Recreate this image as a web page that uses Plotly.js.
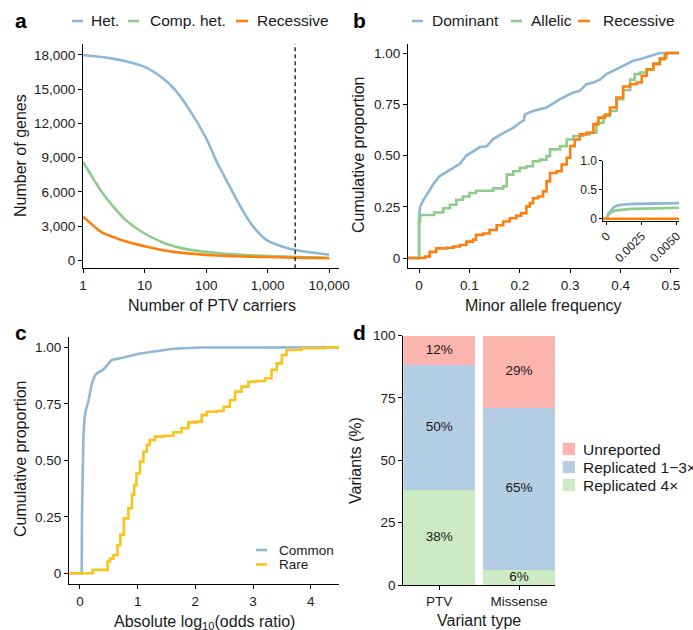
<!DOCTYPE html>
<html>
<head>
<meta charset="utf-8">
<script src="https://cdn.plot.ly/plotly-3.0.1.min.js"></script>
<style>
  html, body { margin: 0; padding: 0; background: #fff; }
  #chart { width: 693px; height: 630px; }
</style>
</head>
<body>
<div id="chart"></div>
<script>
// ---------- panel a: genes passing each carrier threshold ----------
const carriers      = [1, 2, 3, 5, 10, 20, 30, 50, 100, 150, 200, 300, 500, 700, 1000, 2000, 3000, 5000, 10000];
const hetGenes      = [18000, 17820, 17680, 17440, 16950, 15930, 15050, 13450, 10700, 8600, 7320, 5500, 3450, 2450, 1720, 1100, 880, 690, 500];
const compHetGenes  = [8630, 6010, 4800, 3500, 2350, 1550, 1230, 960, 740, 640, 580, 520, 450, 410, 380, 320, 290, 260, 230];
const recessiveGenes= [3820, 2450, 2070, 1650, 1230, 880, 740, 610, 480, 420, 390, 350, 320, 305, 290, 250, 230, 200, 175];
const carrierCutoff = 2800;

// ---------- panel b: cumulative distribution of minor allele frequency ----------
const domMaf = [-0.03, 0, 0, 0.002, 0.008, 0.018, 0.028, 0.041, 0.054, 0.068, 0.081, 0.094, 0.107, 0.12, 0.134, 0.147, 0.16, 0.174, 0.187, 0.2, 0.208, 0.21, 0.226, 0.253, 0.28, 0.306, 0.319, 0.332, 0.346, 0.359, 0.372, 0.385, 0.399, 0.412, 0.425, 0.438, 0.452, 0.465, 0.478, 0.53];
const domCum = [0, 0, 0.2, 0.25, 0.28, 0.32, 0.36, 0.40, 0.42, 0.44, 0.46, 0.50, 0.52, 0.54, 0.545, 0.58, 0.60, 0.62, 0.635, 0.66, 0.672, 0.70, 0.717, 0.734, 0.775, 0.807, 0.815, 0.848, 0.856, 0.87, 0.897, 0.913, 0.93, 0.946, 0.962, 0.97, 0.98, 0.99, 1.0, 1.0];
const allMaf = [-0.03, 0, 0.002, 0.03, 0.048, 0.061, 0.074, 0.087, 0.1, 0.113, 0.147, 0.167, 0.174, 0.187, 0.2, 0.213, 0.226, 0.24, 0.253, 0.26, 0.28, 0.293, 0.306, 0.326, 0.339, 0.352, 0.366, 0.379, 0.392, 0.405, 0.419, 0.428, 0.438, 0.452, 0.465, 0.478, 0.491, 0.53];
const allCum = [0, 0.18, 0.21, 0.222, 0.243, 0.26, 0.284, 0.30, 0.317, 0.328, 0.34, 0.35, 0.407, 0.423, 0.44, 0.448, 0.472, 0.48, 0.497, 0.53, 0.546, 0.578, 0.595, 0.603, 0.611, 0.66, 0.693, 0.717, 0.775, 0.82, 0.87, 0.897, 0.905, 0.92, 0.95, 0.976, 1.0, 1.0];
const recMaf = [-0.03, 0.012, 0.021, 0.034, 0.054, 0.068, 0.081, 0.094, 0.107, 0.113, 0.127, 0.14, 0.154, 0.167, 0.18, 0.193, 0.203, 0.213, 0.22, 0.226, 0.236, 0.246, 0.253, 0.26, 0.273, 0.283, 0.293, 0.3, 0.309, 0.319, 0.332, 0.346, 0.356, 0.369, 0.379, 0.392, 0.405, 0.419, 0.432, 0.442, 0.452, 0.465, 0.478, 0.488, 0.492, 0.53];
const recCum = [0, 0.007, 0.03, 0.047, 0.05, 0.056, 0.064, 0.08, 0.09, 0.113, 0.12, 0.137, 0.16, 0.178, 0.194, 0.206, 0.219, 0.252, 0.268, 0.292, 0.30, 0.325, 0.374, 0.415, 0.423, 0.456, 0.489, 0.546, 0.578, 0.603, 0.611, 0.652, 0.685, 0.70, 0.734, 0.783, 0.837, 0.848, 0.856, 0.889, 0.92, 0.946, 0.97, 0.995, 1.0, 1.0];

// inset: the rare end of the same distributions
const insetDomMaf = [-0.001, 0, 0.0001, 0.0003, 0.0005, 0.0008, 0.0012, 0.002, 0.003, 0.004, 0.0055];
const insetDomCum = [0, 0, 0.08, 0.15, 0.2, 0.23, 0.245, 0.255, 0.26, 0.265, 0.27];
const insetAllMaf = [-0.001, 0, 0.0001, 0.0003, 0.0006, 0.001, 0.0015, 0.002, 0.003, 0.004, 0.0055];
const insetAllCum = [0, 0, 0.06, 0.11, 0.14, 0.155, 0.165, 0.17, 0.175, 0.18, 0.19];
const insetRecMaf = [-0.001, 0.0055];
const insetRecCum = [0, 0];

// ---------- panel c: cumulative distribution of effect sizes ----------
const commonOR  = [-0.2, 0.03, 0.035, 0.045, 0.06, 0.08, 0.1, 0.145, 0.2, 0.25, 0.29, 0.4, 0.5, 0.55, 0.7, 0.81, 1.04, 1.2, 1.39, 1.62, 2.08, 3.0, 4.6];
const commonCum = [0, 0, 0.26, 0.48, 0.61, 0.686, 0.72, 0.76, 0.833, 0.87, 0.885, 0.9, 0.93, 0.944, 0.952, 0.959, 0.973, 0.978, 0.984, 0.994, 0.999, 1.0, 1.0];
const rareOR  = [-0.2, 0.22, 0.48, 0.52, 0.58, 0.65, 0.7, 0.76, 0.84, 0.9, 0.94, 0.98, 1.04, 1.1, 1.16, 1.21, 1.3, 1.45, 1.62, 1.76, 1.88, 2.02, 2.11, 2.2, 2.37, 2.49, 2.6, 2.69, 2.8, 2.92, 3.06, 3.21, 3.32, 3.41, 3.5, 3.58, 3.84, 4.25, 4.3, 4.6];
const rareCum = [0, 0.015, 0.052, 0.065, 0.08, 0.125, 0.17, 0.243, 0.288, 0.347, 0.39, 0.442, 0.494, 0.538, 0.568, 0.59, 0.605, 0.609, 0.624, 0.642, 0.668, 0.671, 0.70, 0.715, 0.718, 0.737, 0.767, 0.804, 0.826, 0.848, 0.851, 0.863, 0.9, 0.929, 0.966, 0.988, 0.996, 0.999, 1.0, 1.0];

// ---------- panel d: replication status by variant type ----------
const variantTypes = ['PTV', 'Missense'];
const replicated4  = [38, 6];
const replicated13 = [50, 65];
const unreported   = [12, 29];

// ---------- styling ----------
const W = 693, H = 630;
const FONT = 'Liberation Sans, Arial, Helvetica, sans-serif';
const INK = '#1a1a1a';
const C_HET = '#8DB7D6', C_COMP = '#8FCB8C', C_REC = '#FF7F0E';
const C_COMMON = '#8FB8D6', C_RARE = '#F9C31A';
const C_UNREP = '#FBB4AE', C_REP13 = '#B3CDE3', C_REP4 = '#CCEBC5';
const LW = 2.6;

const px = v => v / W;          // horizontal pixel -> paper fraction
const py = v => 1 - v / H;      // vertical pixel -> paper fraction

function axisBase(extra) {
  return Object.assign({
    showline: true, linecolor: '#000', linewidth: 1,
    ticks: 'outside', ticklen: 4, tickcolor: '#000', tickwidth: 1,
    showgrid: false, zeroline: false, fixedrange: true,
    tickfont: { family: FONT, size: 13.5, color: INK }
  }, extra);
}

const traces = [
  // a
  { x: carriers, y: hetGenes, xaxis: 'x', yaxis: 'y', mode: 'lines', name: 'Het.',
    line: { color: C_HET, width: LW, shape: 'spline', smoothing: 0.8 } },
  { x: carriers, y: compHetGenes, xaxis: 'x', yaxis: 'y', mode: 'lines', name: 'Comp. het.',
    line: { color: C_COMP, width: LW, shape: 'spline', smoothing: 0.8 } },
  { x: carriers, y: recessiveGenes, xaxis: 'x', yaxis: 'y', mode: 'lines', name: 'Recessive',
    line: { color: C_REC, width: LW, shape: 'spline', smoothing: 0.6 } },
  { x: [carrierCutoff, carrierCutoff], y: [-700, 18960], xaxis: 'x', yaxis: 'y', mode: 'lines',
    line: { color: '#000', width: 1.2, dash: '4px,3px' }, hoverinfo: 'skip' },
  // b
  { x: domMaf, y: domCum, xaxis: 'x2', yaxis: 'y2', mode: 'lines', name: 'Dominant',
    line: { color: C_HET, width: LW } },
  { x: allMaf, y: allCum, xaxis: 'x2', yaxis: 'y2', mode: 'lines', name: 'Allelic',
    line: { color: C_COMP, width: LW, shape: 'hv' } },
  { x: recMaf, y: recCum, xaxis: 'x2', yaxis: 'y2', mode: 'lines', name: 'Recessive',
    line: { color: C_REC, width: LW, shape: 'hv' } },
  // b inset
  { x: insetDomMaf, y: insetDomCum, xaxis: 'x5', yaxis: 'y5', mode: 'lines',
    line: { color: C_HET, width: LW } },
  { x: insetAllMaf, y: insetAllCum, xaxis: 'x5', yaxis: 'y5', mode: 'lines',
    line: { color: C_COMP, width: LW } },
  { x: insetRecMaf, y: insetRecCum, xaxis: 'x5', yaxis: 'y5', mode: 'lines',
    line: { color: C_REC, width: LW } },
  // c
  { x: commonOR, y: commonCum, xaxis: 'x3', yaxis: 'y3', mode: 'lines', name: 'Common',
    line: { color: C_COMMON, width: LW } },
  { x: rareOR, y: rareCum, xaxis: 'x3', yaxis: 'y3', mode: 'lines', name: 'Rare',
    line: { color: C_RARE, width: LW, shape: 'hv' } },
  // d
  { type: 'bar', x: variantTypes, y: replicated4, xaxis: 'x4', yaxis: 'y4', name: 'Replicated 4×',
    marker: { color: C_REP4, line: { width: 0 } }, width: 0.9 },
  { type: 'bar', x: variantTypes, y: replicated13, xaxis: 'x4', yaxis: 'y4', name: 'Replicated 1−3×',
    marker: { color: C_REP13, line: { width: 0 } }, width: 0.9 },
  { type: 'bar', x: variantTypes, y: unreported, xaxis: 'x4', yaxis: 'y4', name: 'Unreported',
    marker: { color: C_UNREP, line: { width: 0 } }, width: 0.9 }
];

// percentage labels centred in each stacked segment
const segLabelX = [], segLabelY = [], segLabelText = [];
variantTypes.forEach((t, i) => {
  let base = 0;
  [replicated4, replicated13, unreported].forEach(series => {
    segLabelX.push(t);
    segLabelY.push(base + series[i] / 2);
    segLabelText.push(series[i] + '%');
    base += series[i];
  });
});
traces.push({ x: segLabelX, y: segLabelY, text: segLabelText, xaxis: 'x4', yaxis: 'y4',
  mode: 'text', textposition: 'middle center', cliponaxis: false,
  textfont: { family: FONT, size: 13.5, color: INK }, hoverinfo: 'skip' });

traces.forEach(t => { t.showlegend = false; });

const layout = {
  width: W, height: H,
  margin: { l: 0, r: 0, t: 0, b: 0 },
  paper_bgcolor: '#fff', plot_bgcolor: 'rgba(0,0,0,0)',
  showlegend: false, barmode: 'stack',
  font: { family: FONT, color: INK },

  // a
  xaxis: axisBase({ domain: [px(83), px(339)], anchor: 'y', type: 'log', range: [-0.002, 4.16],
    tickvals: [1, 10, 100, 1000, 10000], ticktext: ['1', '10', '100', '1,000', '10,000'] }),
  yaxis: axisBase({ domain: [py(268.3), py(44)], anchor: 'x', range: [-700, 18960],
    tickvals: [0, 3000, 6000, 9000, 12000, 15000, 18000], tickformat: ',' }),
  // b
  xaxis2: axisBase({ domain: [px(408), px(679)], anchor: 'y2', range: [-0.022, 0.516],
    tickvals: [0, 0.1, 0.2, 0.3, 0.4, 0.5], ticktext: ['0', '0.1', '0.2', '0.3', '0.4', '0.5'] }),
  yaxis2: axisBase({ domain: [py(268.3), py(44)], anchor: 'x2', range: [-0.05, 1.044],
    tickvals: [0, 0.25, 0.5, 0.75, 1], ticktext: ['0', '0.25', '0.50', '0.75', '1.00'] }),
  // b inset
  xaxis5: axisBase({ domain: [px(603.3), px(679)], anchor: 'y5', range: [-0.00025, 0.00517],
    tickvals: [0, 0.0025, 0.005], ticktext: ['0', '0.0025', '0.0050'], tickangle: -45, ticklen: 3,
    tickfont: { family: FONT, size: 12, color: INK } }),
  yaxis5: axisBase({ domain: [py(220.5), py(160.5)], anchor: 'x5', range: [-0.03, 1.0],
    tickvals: [0, 0.5, 1], ticktext: ['0', '0.5', '1.0'], ticklen: 3,
    tickfont: { family: FONT, size: 12, color: INK } }),
  // c
  xaxis3: axisBase({ domain: [px(69), px(339)], anchor: 'y3', range: [-0.19, 4.49],
    tickvals: [0, 1, 2, 3, 4] }),
  yaxis3: axisBase({ domain: [py(584.3), py(336.7)], anchor: 'x3', range: [-0.0487, 1.047],
    tickvals: [0, 0.25, 0.5, 0.75, 1], ticktext: ['0', '0.25', '0.50', '0.75', '1.00'] }),
  // d
  xaxis4: axisBase({ domain: [px(403.3), px(555)], anchor: 'y4', type: 'category',
    range: [-0.45, 1.45] }),
  yaxis4: axisBase({ domain: [py(585), py(335.5)], anchor: 'x4', range: [0, 100],
    tickvals: [0, 25, 50, 75, 100] }),

  shapes: [],
  annotations: []
};

function label(x, y, text, opts) {
  layout.annotations.push(Object.assign({
    xref: 'paper', yref: 'paper', x: px(x), y: py(y), text: text, showarrow: false,
    xanchor: 'center', yanchor: 'middle',
    font: { family: FONT, size: 16, color: INK }
  }, opts || {}));
}
function swatchLine(x0, x1, y, color) {
  layout.shapes.push({ type: 'line', xref: 'paper', yref: 'paper',
    x0: px(x0), x1: px(x1), y0: py(y), y1: py(y), line: { color: color, width: 2.6 } });
}
function swatchBox(x0, yc, color) {
  layout.shapes.push({ type: 'rect', xref: 'paper', yref: 'paper',
    x0: px(x0), x1: px(x0 + 12.3), y0: py(yc + 6.1), y1: py(yc - 6.1),
    fillcolor: color, line: { width: 0 } });
}

// panel letters
const letterFont = { family: FONT, size: 21, color: '#000', weight: 'bold' };
label(13, 21, '<b>a</b>', { xanchor: 'left', font: letterFont });
label(351, 21, '<b>b</b>', { xanchor: 'left', font: letterFont });
label(13, 332, '<b>c</b>', { xanchor: 'left', font: letterFont });
label(351, 332, '<b>d</b>', { xanchor: 'left', font: letterFont });

// axis titles
label(20, 156, 'Number of genes', { textangle: -90 });
label(212, 305, 'Number of PTV carriers');
label(358, 155, 'Cumulative proportion', { textangle: -90 });
label(543, 305, 'Minor allele frequency');
label(20, 459, 'Cumulative proportion', { textangle: -90 });
label(204, 622, 'Absolute log<sub>10</sub>(odds ratio)');
label(356, 461, 'Variants (%)', { textangle: -90 });
label(479, 620, 'Variant type');

// legend, panel a
const legFont = { family: FONT, size: 15.5, color: INK };
swatchLine(72, 83, 21, C_HET);   label(89, 21, 'Het.', { xanchor: 'left', font: legFont });
swatchLine(128, 139, 21, C_COMP); label(148, 21, 'Comp. het.', { xanchor: 'left', font: legFont });
swatchLine(236, 248, 21, C_REC);  label(255, 21, 'Recessive', { xanchor: 'left', font: legFont });

// legend, panel b
swatchLine(412, 423, 21, C_HET);  label(430, 21, 'Dominant', { xanchor: 'left', font: legFont });
swatchLine(511, 522, 21, C_COMP); label(529, 21, 'Allelic', { xanchor: 'left', font: legFont });
swatchLine(578, 590, 21, C_REC);  label(601, 21, 'Recessive', { xanchor: 'left', font: legFont });

// legend, panel c
const legFontSmall = { family: FONT, size: 13.5, color: INK };
swatchLine(256, 267, 550, C_COMMON); label(277, 550, 'Common', { xanchor: 'left', font: legFontSmall });
swatchLine(256, 267, 564.5, C_RARE);   label(277, 564.5, 'Rare', { xanchor: 'left', font: legFontSmall });

// legend, panel d
swatchBox(562.7, 449, C_UNREP);  label(580.5, 449, 'Unreported', { xanchor: 'left', font: legFont });
swatchBox(562.7, 467, C_REP13);  label(580.5, 467, 'Replicated 1−3×', { xanchor: 'left', font: legFont });
swatchBox(562.7, 485, C_REP4);   label(580.5, 485, 'Replicated 4×', { xanchor: 'left', font: legFont });

Plotly.newPlot('chart', traces, layout, { staticPlot: true, displayModeBar: false });
</script>
</body>
</html>
